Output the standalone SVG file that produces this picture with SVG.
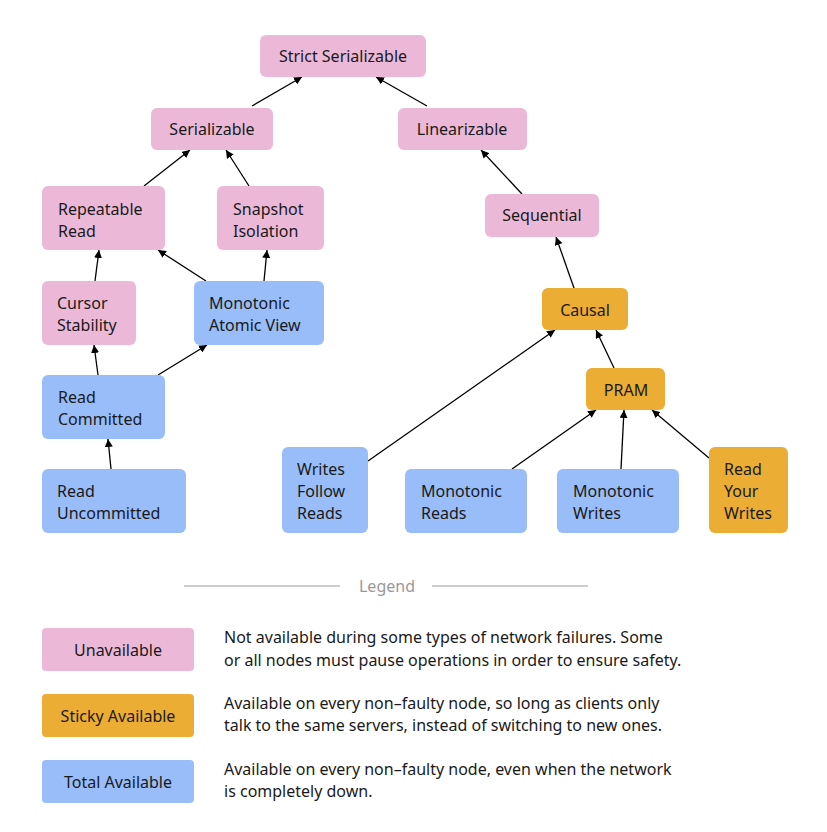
<svg xmlns="http://www.w3.org/2000/svg" width="827" height="832" viewBox="0 0 827 832">
<style>
text{font-family:"Noto Sans","Liberation Sans",sans-serif;font-size:16px;fill:#1a1a1a}
.u{fill:#ebb8d8}.s{fill:#ebad33}.t{fill:#98bdf9}
.e line{stroke:#000;stroke-width:1.3;marker-end:url(#a)}
.m{text-anchor:middle}
</style>
<defs><marker id="a" viewBox="0 0 10 10" refX="10" refY="5" markerWidth="8" markerHeight="8" orient="auto" markerUnits="userSpaceOnUse"><path d="M0,0L10,5L0,10z" fill="#000"/></marker></defs>
<rect width="827" height="832" fill="#fff"/>
<g class="e">
<line x1="252" y1="106" x2="302" y2="77"/>
<line x1="427" y1="106" x2="376" y2="77"/>
<line x1="144" y1="186" x2="190" y2="150"/>
<line x1="249" y1="186" x2="226" y2="150"/>
<line x1="522" y1="194" x2="481" y2="150"/>
<line x1="95" y1="281" x2="99" y2="250"/>
<line x1="206" y1="281" x2="158" y2="250"/>
<line x1="264" y1="281" x2="267" y2="250"/>
<line x1="574" y1="288" x2="556" y2="237"/>
<line x1="98" y1="375" x2="94" y2="345"/>
<line x1="158" y1="375" x2="207" y2="345"/>
<line x1="614" y1="368" x2="596" y2="330"/>
<line x1="111" y1="469" x2="108" y2="439"/>
<line x1="368" y1="461" x2="555" y2="330"/>
<line x1="512" y1="469" x2="596" y2="410"/>
<line x1="621" y1="469" x2="624" y2="410"/>
<line x1="709" y1="458" x2="652" y2="410"/>
</g>
<g id="strict"><rect class="u" x="260" y="35" width="166" height="42" rx="6"/><text class="m" x="343" y="62">Strict Serializable</text></g>
<g id="ser"><rect class="u" x="151" y="108" width="122" height="42" rx="6"/><text class="m" x="212" y="135">Serializable</text></g>
<g id="lin"><rect class="u" x="398" y="108" width="129" height="42" rx="6"/><text class="m" x="462" y="135">Linearizable</text></g>
<g id="rr"><rect class="u" x="42" y="186" width="123" height="64" rx="6"/><text x="58" y="215">Repeatable</text><text x="58" y="237">Read</text></g>
<g id="si"><rect class="u" x="217" y="186" width="107" height="64" rx="6"/><text x="233" y="215">Snapshot</text><text x="233" y="237">Isolation</text></g>
<g id="seq"><rect class="u" x="485" y="194" width="114" height="43" rx="6"/><text class="m" x="542" y="221">Sequential</text></g>
<g id="cs"><rect class="u" x="42" y="281" width="94" height="64" rx="6"/><text x="57" y="309">Cursor</text><text x="57" y="331">Stability</text></g>
<g id="mav"><rect class="t" x="194" y="281" width="130" height="64" rx="6"/><text x="209" y="309">Monotonic</text><text x="209" y="331">Atomic View</text></g>
<g id="causal"><rect class="s" x="542" y="288" width="86" height="42" rx="6"/><text class="m" x="585" y="316">Causal</text></g>
<g id="rc"><rect class="t" x="42" y="375" width="123" height="64" rx="6"/><text x="58" y="403">Read</text><text x="58" y="425">Committed</text></g>
<g id="pram"><rect class="s" x="586" y="368" width="79" height="42" rx="6"/><text class="m" x="626" y="396">PRAM</text></g>
<g id="ru"><rect class="t" x="42" y="469" width="144" height="64" rx="6"/><text x="57" y="497">Read</text><text x="57" y="519">Uncommitted</text></g>
<g id="wfr"><rect class="t" x="282" y="447" width="86" height="86" rx="6"/><text x="297" y="475">Writes</text><text x="297" y="497">Follow</text><text x="297" y="519">Reads</text></g>
<g id="mr"><rect class="t" x="405" y="469" width="122" height="64" rx="6"/><text x="421" y="497">Monotonic</text><text x="421" y="519">Reads</text></g>
<g id="mw"><rect class="t" x="557" y="469" width="122" height="64" rx="6"/><text x="573" y="497">Monotonic</text><text x="573" y="519">Writes</text></g>
<g id="ryw"><rect class="s" x="709" y="447" width="79" height="86" rx="6"/><text x="724" y="475">Read</text><text x="724" y="497">Your</text><text x="724" y="519">Writes</text></g>
<g id="legend">
<line x1="184" y1="586" x2="340" y2="586" stroke="#bbb" stroke-width="1.5"/>
<line x1="432" y1="586" x2="588" y2="586" stroke="#bbb" stroke-width="1.5"/>
<text class="m" x="387" y="592" style="fill:#999">Legend</text>
<rect class="u" x="42" y="628" width="152" height="43" rx="4"/><text class="m" x="118" y="656">Unavailable</text>
<text x="224" y="643">Not available during some types of network failures. Some</text>
<text x="224" y="666">or all nodes must pause operations in order to ensure safety.</text>
<rect class="s" x="42" y="694" width="152" height="43" rx="4"/><text class="m" x="118" y="722">Sticky Available</text>
<text x="224" y="709">Available on every non–faulty node, so long as clients only</text>
<text x="224" y="731">talk to the same servers, instead of switching to new ones.</text>
<rect class="t" x="42" y="760" width="152" height="43" rx="4"/><text class="m" x="118" y="788">Total Available</text>
<text x="224" y="775">Available on every non–faulty node, even when the network</text>
<text x="224" y="797">is completely down.</text>
</g>
</svg>
